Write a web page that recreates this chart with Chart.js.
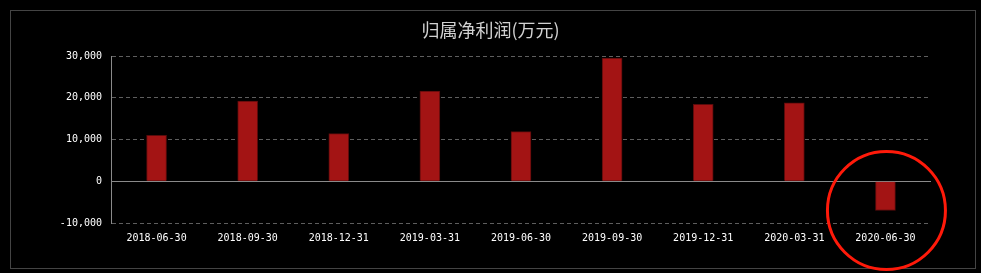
<!DOCTYPE html>
<html lang="zh">
<head>
    <meta charset="UTF-8">
    <title>归属净利润(万元)</title>
    <script src="https://cdn.jsdelivr.net/npm/chart.js"></script>
    <style>
        html, body { margin: 0; padding: 0; background: #000; }
        #wrap { width: 981px; height: 273px; position: relative; }
    </style>
</head>
<body>
    <div id="wrap"><canvas id="profitChart"></canvas></div>

    <script>
        // 报告期
        const reportDates = ['2018-06-30', '2018-09-30', '2018-12-31', '2019-03-31', '2019-06-30',
                             '2019-09-30', '2019-12-31', '2020-03-31', '2020-06-30'];
        // 归属净利润 (万元)
        const netProfit = [11000, 19200, 11400, 21600, 11900, 29500, 18400, 18800, -7000];
        // y 轴刻度
        const yTicks = [-10000, 0, 10000, 20000, 30000];

        // 外框 + 零线 + 红圈标注
        const decorations = {
            id: 'decorations',
            beforeDraw(chart) {
                const c = chart.ctx;
                c.save();
                c.fillStyle = '#000';
                c.fillRect(0, 0, chart.width, chart.height);
                c.strokeStyle = '#444';
                c.lineWidth = 1;
                c.strokeRect(10.5, 10.5, 965, 258);
                c.restore();
            },
            beforeDatasetsDraw(chart) {
                const c = chart.ctx, area = chart.chartArea;
                const y0 = Math.round(chart.scales.y.getPixelForValue(0)) + 0.5;
                c.save();
                c.strokeStyle = '#8a8a8a';
                c.lineWidth = 1;
                c.beginPath();
                c.moveTo(area.left, y0);
                c.lineTo(area.right, y0);
                c.stroke();
                c.restore();
            },
            afterDatasetsDraw(chart) {
                const meta = chart.getDatasetMeta(0);
                const last = meta.data[meta.data.length - 1];
                const c = chart.ctx;
                c.save();
                c.strokeStyle = '#ff1a0a';
                c.lineWidth = 3;
                c.beginPath();
                c.arc(last.x + 1, last.y, 59, 0, Math.PI * 2);
                c.stroke();
                c.restore();
            }
        };

        const ctx = document.getElementById('profitChart').getContext('2d');
        new Chart(ctx, {
            type: 'bar',
            data: {
                labels: reportDates,
                datasets: [{
                    label: '归属净利润',
                    data: netProfit,
                    backgroundColor: '#a31414',
                    borderColor: '#5a0b0b',
                    borderWidth: 1,
                    barThickness: 20
                }]
            },
            options: {
                responsive: true,
                maintainAspectRatio: false,
                animation: false,
                layout: { padding: { left: 50, right: 50, top: 0, bottom: 0 } },
                plugins: {
                    legend: { display: false },
                    tooltip: { enabled: false },
                    title: {
                        display: true,
                        text: '归属净利润(万元)',
                        color: '#d2d2d2',
                        font: { family: '"Noto Sans CJK SC", sans-serif', size: 18, weight: 'normal' },
                        padding: { top: 19, bottom: 15.4 }
                    }
                },
                scales: {
                    x: {
                        grid: { display: false, drawTicks: false },
                        border: { display: false },
                        ticks: {
                            color: '#ffffff',
                            padding: 9,
                            maxRotation: 0,
                            autoSkip: false,
                            font: { family: '"DejaVu Sans Mono", monospace', size: 10 }
                        },
                        afterFit(scale) { scale.height = 50; }
                    },
                    y: {
                        min: -10000,
                        max: 30000,
                        afterBuildTicks(scale) { scale.ticks = yTicks.map(v => ({ value: v })); },
                        grid: {
                            drawTicks: false,
                            color: ctx => ctx.tick && ctx.tick.value === 0 ? 'rgba(0,0,0,0)' : '#5e5e5e'
                        },
                        border: { display: true, color: '#8a8a8a', dash: [4, 3] },
                        ticks: {
                            color: '#ffffff',
                            padding: 9,
                            font: { family: '"DejaVu Sans Mono", monospace', size: 10 },
                            callback: v => v.toLocaleString('en-US')
                        },
                        afterFit(scale) { scale.width = 61; }
                    }
                }
            },
            plugins: [decorations]
        });
    </script>
</body>
</html>
